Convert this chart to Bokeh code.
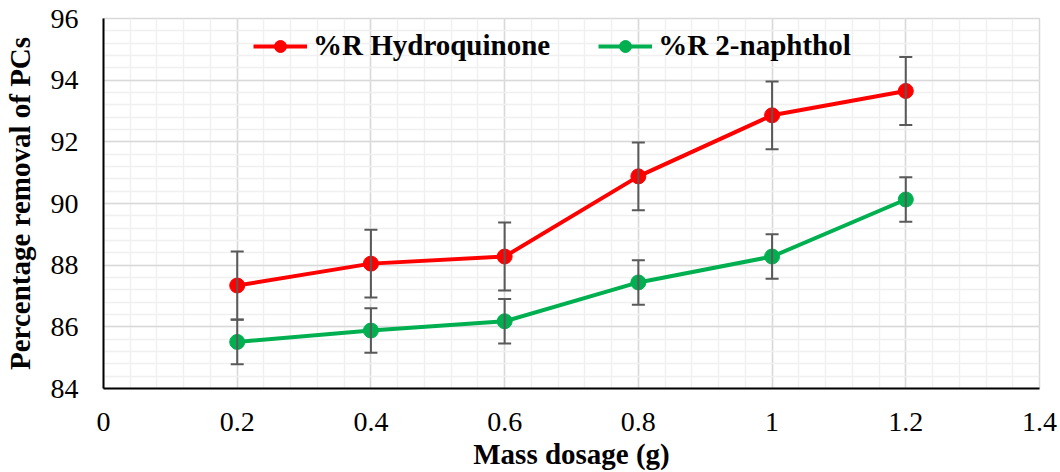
from bokeh.plotting import figure
from bokeh.models import (Range1d, FixedTicker, Whisker, TeeHead, ColumnDataSource,
                          Legend, LegendItem)
from bokeh.embed import file_html
from bokeh.resources import INLINE

# ---- data ----
dosage = [0.2, 0.4, 0.6, 0.8, 1.0, 1.2]
hydroquinone = [87.34, 88.05, 88.28, 90.88, 92.86, 93.65]
hydroquinone_err = [1.1, 1.1, 1.1, 1.1, 1.1, 1.1]
naphthol = [85.51, 85.88, 86.18, 87.44, 88.28, 90.13]
naphthol_err = [0.72, 0.72, 0.72, 0.72, 0.72, 0.72]

x_ticks = [0, 0.2, 0.4, 0.6, 0.8, 1.0, 1.2, 1.4]
x_tick_labels = ["0", "0.2", "0.4", "0.6", "0.8", "1", "1.2", "1.4"]
x_minor = [round(i * 0.04, 2) for i in range(36)]
y_ticks = [84, 86, 88, 90, 92, 94, 96]
y_minor = [round(84 + i * 0.4, 1) for i in range(31)]

series_names = ["%R Hydroquinone", "%R 2-naphthol"]
RED = "#FF0000"
GREEN = "#00B050"
ERR = "#595959"
FONT = "Liberation Serif"

p = figure(width=1060, height=472, output_backend="svg", toolbar_location=None,
           x_range=Range1d(0, 1.4), y_range=Range1d(84, 96),
           min_border_left=100, min_border_right=21, min_border_top=18,
           min_border_bottom=84)

p.background_fill_color = "white"
p.border_fill_color = "white"
p.outline_line_color = "#D9D9D9"
p.outline_line_width = 1.5

# axes
p.xaxis.ticker = FixedTicker(ticks=x_ticks, minor_ticks=x_minor)
p.yaxis.ticker = FixedTicker(ticks=y_ticks, minor_ticks=y_minor)
p.xaxis.major_label_overrides = {t: l for t, l in zip(x_ticks, x_tick_labels)}
p.yaxis.major_label_overrides = {t: str(t) for t in y_ticks}
for ax in (p.xaxis, p.yaxis):
    ax.major_tick_out = 0
    ax.major_tick_in = 0
    ax.minor_tick_out = 0
    ax.minor_tick_in = 0
    ax.axis_line_color = "black"
    ax.axis_line_width = 2
    ax.major_label_text_font = FONT
    ax.major_label_text_font_size = "28px"
    ax.major_label_text_color = "black"
    ax.axis_label_text_font = FONT
    ax.axis_label_text_font_style = "bold"
    ax.axis_label_text_font_size = "29px"
    ax.axis_label_text_color = "black"

p.xaxis.axis_label = "Mass dosage (g)"
p.yaxis.axis_label = "Percentage removal of PCs"
p.xaxis.major_label_standoff = 24
p.xaxis.axis_label_standoff = 4
p.yaxis.major_label_standoff = 25
p.yaxis.axis_label_standoff = 12

# grids
for g in (p.xgrid, p.ygrid):
    g.grid_line_color = "#D9D9D9"
    g.grid_line_width = 1.5
    g.minor_grid_line_color = "#F0F0F0"
    g.minor_grid_line_width = 1.5

# error bars
src_h = ColumnDataSource(dict(x=dosage, y=hydroquinone,
                              lo=[v - e for v, e in zip(hydroquinone, hydroquinone_err)],
                              hi=[v + e for v, e in zip(hydroquinone, hydroquinone_err)]))
src_n = ColumnDataSource(dict(x=dosage, y=naphthol,
                              lo=[v - e for v, e in zip(naphthol, naphthol_err)],
                              hi=[v + e for v, e in zip(naphthol, naphthol_err)]))
for src in (src_h, src_n):
    w = Whisker(source=src, base="x", lower="lo", upper="hi",
                line_color=ERR, line_width=2, level="glyph",
                upper_head=TeeHead(size=13, line_color=ERR, line_width=2),
                lower_head=TeeHead(size=13, line_color=ERR, line_width=2))
    p.add_layout(w)

# lines and markers
lh = p.line("x", "y", source=src_h, line_color=RED, line_width=4)
ch = p.scatter("x", "y", source=src_h, size=15, fill_color=RED, line_color=RED)
ln = p.line("x", "y", source=src_n, line_color=GREEN, line_width=4)
cn = p.scatter("x", "y", source=src_n, size=15, fill_color=GREEN, line_color=GREEN)

legend = Legend(items=[LegendItem(label=series_names[0], renderers=[lh, ch]),
                       LegendItem(label=series_names[1], renderers=[ln, cn])],
                orientation="horizontal", location=(150, 326),
                glyph_width=54, glyph_height=30, label_standoff=6, spacing=48,
                padding=0, margin=0, border_line_color=None,
                background_fill_alpha=0,
                label_text_font=FONT, label_text_font_style="bold",
                label_text_font_size="29px", label_text_color="black")
p.add_layout(legend, "center")

open("out.html", "w").write(file_html(p, INLINE))
